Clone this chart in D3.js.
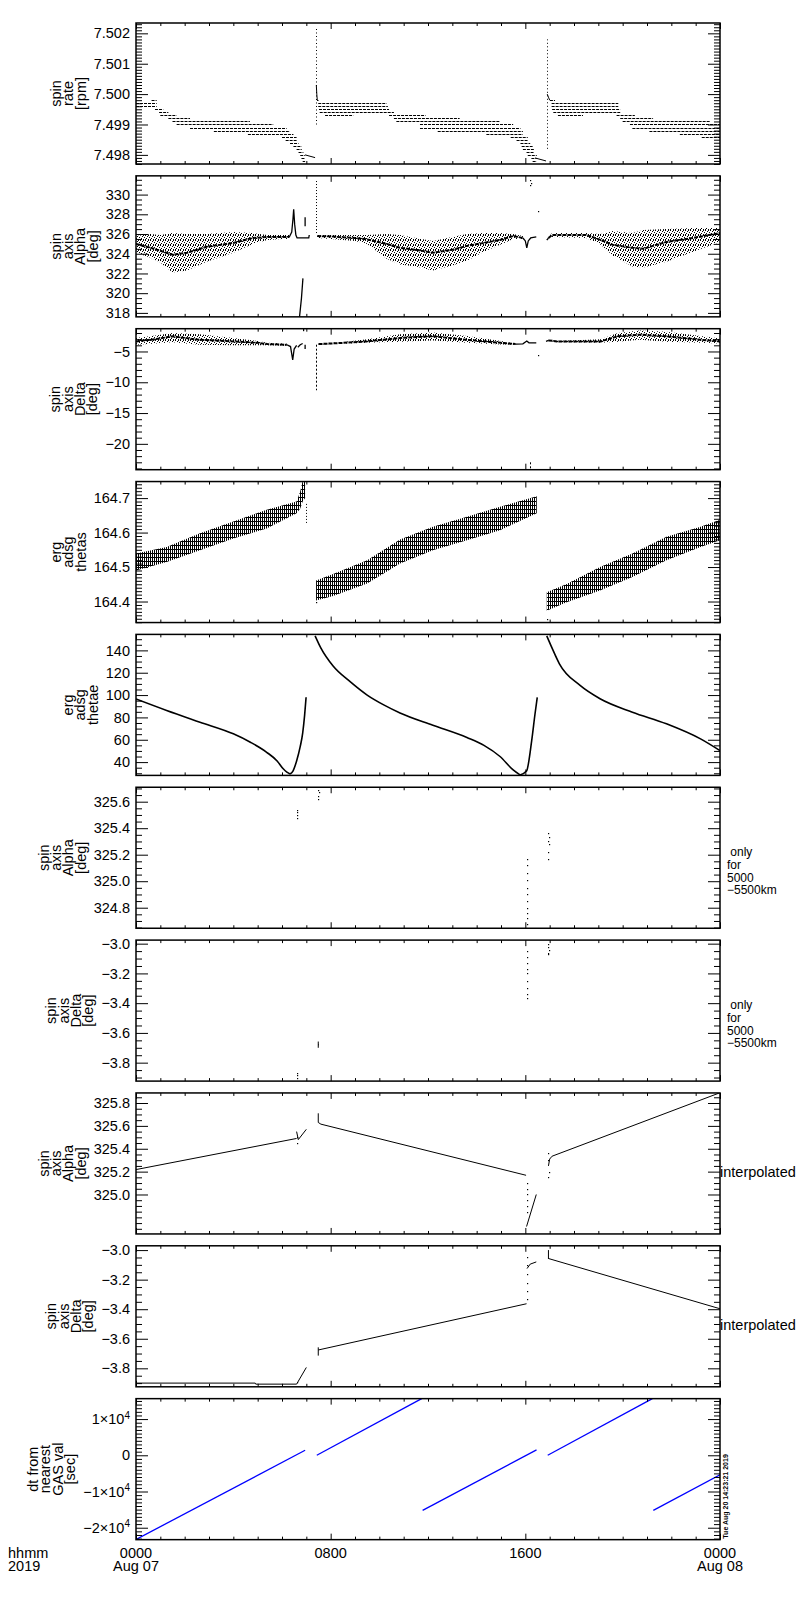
<!DOCTYPE html>
<html>
<head>
<meta charset="utf-8">
<script src="https://cdn.jsdelivr.net/npm/d3@7"></script>
<style>
  body { margin: 0; background: #fff; }
  text { font-family: "Liberation Sans", Arial, sans-serif; }
</style>
</head>
<body>
<svg id="chart"></svg>
<script>
// ---- data (time in hours from 0000 Aug 07) ----

// x axis
const xMajorHours = [0, 8, 16, 24];
const xMajorLabels = [["0000", "Aug 07"], ["0800", ""], ["1600", ""], ["0000", "Aug 08"]];

// panel 1: spin rate, quantised rows [level, t0, t1]
const p1Rows = [
  [7.4998, 0.64, 0.85], [7.4997, 0.00, 0.85], [7.4996, 0.00, 0.85], [7.4995, 0.78, 1.12],
  [7.4994, 0.95, 1.33], [7.4993, 1.00, 1.67], [7.4992, 1.33, 2.22], [7.4991, 1.50, 4.68],
  [7.4990, 1.67, 5.64], [7.4989, 2.22, 6.19], [7.4988, 3.20, 6.33], [7.4987, 4.60, 6.47],
  [7.4986, 6.00, 6.60], [7.4985, 6.15, 6.60], [7.4984, 6.33, 6.68], [7.4983, 6.47, 6.81],
  [7.4982, 6.60, 6.81], [7.4981, 6.68, 6.88], [7.4980, 6.75, 6.95], [7.4979, 6.80, 6.95],
  [7.4978, 6.85, 6.95],
  [7.4998, 7.44, 7.50], [7.4997, 7.49, 10.30], [7.4996, 7.49, 10.35], [7.4995, 7.52, 10.40],
  [7.4994, 7.55, 10.60], [7.4993, 7.77, 8.93], [7.4993, 10.40, 11.90], [7.4992, 10.60, 13.30],
  [7.4991, 10.70, 14.96], [7.4990, 11.67, 15.50], [7.4989, 11.67, 15.80], [7.4988, 12.40, 15.90],
  [7.4987, 14.40, 15.90], [7.4986, 15.40, 16.10], [7.4985, 15.64, 16.10], [7.4984, 15.80, 16.20],
  [7.4983, 15.85, 16.30], [7.4982, 15.90, 16.35], [7.4981, 16.05, 16.35], [7.4980, 16.10, 16.47],
  [7.4979, 16.25, 16.47], [7.4978, 16.30, 16.47],
  [7.4998, 17.01, 17.22], [7.4997, 17.08, 19.82], [7.4996, 17.08, 19.82], [7.4995, 17.10, 19.90],
  [7.4994, 17.15, 19.90], [7.4993, 17.34, 18.37], [7.4993, 19.75, 20.50], [7.4992, 19.90, 21.25],
  [7.4991, 20.00, 23.60], [7.4990, 20.30, 24.00], [7.4989, 20.40, 24.00], [7.4988, 21.10, 24.00],
  [7.4987, 22.35, 24.00], [7.4986, 23.25, 24.00]
];
const p1Lines = [
  [[6.95, 7.49800], [7.36, 7.49791]],
  [[16.40, 7.49790], [16.85, 7.49780]],
  [[7.41, 7.50030], [7.43, 7.50000], [7.45, 7.49980]],
  [[16.90, 7.50000], [16.95, 7.49990], [17.00, 7.49980]]
];
const p1Spikes = [[7.40, 7.4990, 7.5022], [16.88, 7.4982, 7.5018]];

// panel 2: spin axis alpha, scatter band [t, lo, core, hi]
const p2Band1 = [
  [0.0, 324.1, 325.0, 325.8], [0.6, 323.6, 324.6, 326.0], [1.0, 323.1, 324.3, 325.9],
  [1.5, 322.1, 323.9, 326.1], [2.1, 322.3, 324.1, 326.0], [2.9, 323.2, 324.7, 326.0],
  [4.0, 324.1, 325.1, 326.2], [4.8, 325.0, 325.6, 326.1], [5.4, 325.4, 325.7, 325.9],
  [6.0, 325.5, 325.7, 325.9], [6.3, 325.5, 325.7, 325.9]
];
const p2Band2 = [
  [7.45, 325.6, 325.8, 325.9], [8.0, 325.5, 325.75, 325.9], [9.0, 325.3, 325.6, 325.9],
  [9.5, 325.0, 325.45, 325.9], [10.3, 323.5, 325.0, 326.0], [10.85, 322.9, 324.6, 325.9],
  [11.5, 322.7, 324.4, 325.6], [12.2, 322.3, 324.1, 325.3], [13.0, 322.8, 324.4, 325.7],
  [13.6, 323.3, 324.8, 326.0], [14.3, 324.2, 325.1, 326.1], [14.96, 324.9, 325.4, 326.1],
  [15.5, 325.5, 325.8, 326.0], [15.9, 325.5, 325.6, 325.8]
];
const p2Band3 = [
  [16.95, 325.5, 325.6, 325.7], [17.1, 325.7, 325.9, 326.1], [18.5, 325.6, 325.9, 326.1],
  [19.1, 324.9, 325.4, 326.0], [19.6, 323.8, 324.9, 326.3], [20.4, 322.7, 324.6, 326.1],
  [20.85, 322.6, 324.5, 326.4], [21.8, 323.2, 325.2, 326.5], [22.9, 324.2, 325.6, 326.6],
  [24.0, 325.2, 326.1, 326.6]
];
const p2Lines = [
  [[6.3, 325.7], [6.4, 326.2], [6.45, 327.5], [6.48, 328.5], [6.52, 327.0], [6.57, 325.9], [6.62, 325.6], [7.1, 325.6], [7.12, 325.9]],
  [[6.72, 317.6], [6.8, 319.5], [6.86, 321.5]],
  [[6.95, 326.8], [6.95, 327.7]],
  [[15.9, 325.6], [16.0, 325.3], [16.06, 324.6], [16.12, 325.3], [16.22, 325.6], [16.45, 325.7]],
  [[16.88, 325.4], [16.92, 325.5], [16.95, 325.6]]
];
const p2Spikes = [[7.40, 326.1, 331.5]];
const p2Dots = [[16.2, 331.5], [16.21, 331.0], [16.22, 331.2], [16.5, 328.3]];

// panel 3: spin axis delta [t, lo, core, hi]
const p3Band1 = [
  [0.0, -3.9, -3.36, -2.8], [0.8, -3.7, -3.0, -2.4], [1.5, -3.5, -2.54, -2.0],
  [2.6, -3.9, -3.1, -2.2], [4.0, -4.0, -3.36, -2.8], [5.0, -4.0, -3.6, -3.3],
  [5.4, -4.0, -3.8, -3.6], [6.2, -4.05, -3.9, -3.75]
];
const p3Band2 = [
  [7.5, -3.85, -3.8, -3.75], [8.5, -3.75, -3.6, -3.45], [9.5, -3.6, -3.36, -3.0],
  [10.85, -3.4, -2.8, -2.2], [12.2, -3.2, -2.54, -1.9], [13.6, -3.6, -3.1, -2.5],
  [15.0, -3.85, -3.6, -3.3], [15.6, -3.9, -3.8, -3.7]
];
const p3Band3 = [
  [16.95, -3.3, -3.2, -3.1], [17.3, -3.45, -3.36, -3.3], [19.1, -3.6, -3.36, -3.0],
  [19.8, -3.4, -2.54, -2.0], [20.7, -3.1, -2.27, -1.6], [21.8, -3.4, -2.54, -1.8],
  [23.2, -3.6, -3.1, -2.5], [24.0, -3.7, -3.36, -2.9]
];
const p3Lines = [
  [[6.2, -3.9], [6.35, -4.2], [6.44, -6.36], [6.5, -4.6], [6.6, -4.0]],
  [[6.65, -4.3], [6.75, -3.9], [6.85, -3.7]],
  [[6.95, -3.9], [6.95, -4.6]],
  [[15.6, -3.8], [15.9, -3.75], [16.06, -3.3], [16.15, -3.6], [16.45, -3.6]],
  [[16.85, -3.35], [16.95, -3.2]]
];
const p3Spikes = [[7.40, -3.9, -11.3], [16.2, -23.0, -24.1]];
const p3Dots = [[6.85, -1.4], [6.86, -1.55], [16.5, -5.5]];

// panel 4: erg adsg thetas band [t, lo, hi]
const p4Band1 = [
  [0.0, 164.490, 164.539], [1.26, 164.515, 164.558], [2.63, 164.549, 164.598],
  [4.0, 164.583, 164.632], [5.37, 164.612, 164.666], [6.6, 164.656, 164.690],
  [6.75, 164.670, 164.720], [6.85, 164.690, 164.750], [6.95, 164.700, 164.750]
];
const p4Band2 = [
  [7.4, 164.403, 164.461], [8.1, 164.416, 164.480], [9.5, 164.452, 164.520],
  [10.85, 164.510, 164.580], [12.2, 164.549, 164.617], [13.6, 164.578, 164.646],
  [14.96, 164.607, 164.675], [16.47, 164.656, 164.705]
];
const p4Band3 = [
  [16.88, 164.373, 164.427], [17.7, 164.398, 164.451], [19.07, 164.432, 164.500],
  [20.4, 164.471, 164.539], [21.8, 164.520, 164.588], [23.2, 164.558, 164.617],
  [24.0, 164.578, 164.637]
];
const p4Spikes = [[6.97, 164.628, 164.686]];
const p4Dots = [[7.4, 164.398], [16.88, 164.350]];

// panel 5: erg adsg thetae
const p5Lines = [
  [[0, 96.5], [1.26, 86.2], [2.63, 75.7], [4.0, 65.3], [4.7, 57.8], [5.37, 48.8], [5.8, 41], [6.05, 34], [6.2, 31], [6.33, 29.4]],
  [[6.33, 29.4], [6.45, 32], [6.6, 41], [6.75, 54], [6.85, 66], [6.93, 82], [6.99, 98]],
  [[7.36, 153], [7.6, 142], [8.1, 126], [8.8, 112], [9.5, 100], [10.2, 91], [10.85, 84], [12.2, 73], [13.6, 62], [14.3, 55],
   [14.96, 45], [15.5, 33], [15.78, 28.5]],
  [[15.78, 28.5], [16.05, 32], [16.26, 59], [16.4, 83.5], [16.49, 98]],
  [[16.88, 153], [17.1, 142], [17.4, 128], [18.25, 108.6], [19.07, 96.7], [20.4, 84.7], [21.8, 74.3], [23.2, 60.8], [24, 50.3]]
];

// panel 6 / 7: only for 5000-5500 km
const p6Dots = [
  [6.60, 325.54], [6.60, 325.52], [6.61, 325.50], [6.60, 325.48],
  [7.49, 325.69], [7.50, 325.67], [7.49, 325.64], [7.49, 325.62],
  [16.05, 325.17], [16.05, 325.12], [16.06, 325.06], [16.05, 325.01], [16.06, 324.95], [16.05, 324.90],
  [16.06, 324.85], [16.05, 324.80], [16.06, 324.76], [16.05, 324.72], [16.06, 324.68],
  [16.95, 325.36], [16.96, 325.33], [16.95, 325.30], [16.97, 325.28], [16.95, 325.22], [16.95, 325.17]
];
const p7Dots = [
  [6.60, -3.870], [6.60, -3.885], [6.61, -3.905],
  [16.05, -3.05], [16.05, -3.09], [16.06, -3.13], [16.05, -3.17], [16.06, -3.20], [16.05, -3.25],
  [16.06, -3.30], [16.05, -3.34], [16.05, -3.365],
  [16.95, -3.005], [16.95, -3.02], [16.96, -3.04], [16.95, -3.06], [16.95, -3.07]
];
const p7Lines = [[[7.49, -3.658], [7.49, -3.70]], [[7.49, -3.68], [7.52, -3.68]]];

// panel 8 / 9: interpolated
const p8Lines = [
  [[0, 325.218], [6.6, 325.49]],
  [[6.6, 325.55], [6.67, 325.48], [7.0, 325.57]],
  [[7.49, 325.71], [7.49, 325.63], [7.6, 325.615], [16.03, 325.168]],
  [[16.05, 324.72], [16.45, 325.0]],
  [[16.95, 325.25], [17.0, 325.31], [17.1, 325.335], [24, 325.89]]
];
const p8Dots = [[6.6, 325.45], [6.6, 325.50], [16.05, 325.10], [16.05, 325.05], [16.06, 325.00], [16.05, 324.95],
  [16.05, 324.90], [16.06, 324.85], [16.95, 325.36], [16.95, 325.30], [16.96, 325.20], [16.95, 325.15]];
const p9Lines = [
  [[0, -3.9], [4.9, -3.9], [4.92, -3.907], [6.6, -3.907]],
  [[6.6, -3.907], [7.0, -3.794]],
  [[7.49, -3.658], [7.49, -3.714]],
  [[7.49, -3.676], [16.05, -3.363]],
  [[16.07, -3.125], [16.2, -3.095], [16.45, -3.08]],
  [[16.95, -3.0], [16.95, -3.06]],
  [[16.95, -3.057], [24, -3.397]]
];
const p9Dots = [[6.6, -3.89], [16.05, -3.05], [16.05, -3.10], [16.06, -3.16], [16.05, -3.22], [16.05, -3.28], [16.06, -3.33]];

// panel 10: dt from nearest GAS value [sec]
const p10Lines = [
  [[0, -23250], [6.95, 1400]],
  [[7.43, 0], [11.74, 15640]],
  [[11.78, -15200], [16.46, 1500]],
  [[16.92, 0], [21.22, 15640]],
  [[21.26, -15200], [24, -5400]]
];

// axes per panel
const yDomains = [
  [7.4977, 7.50234], [317.6, 331.9], [-24.2, -1.3], [164.339, 164.748], [28.1, 154.3],
  [324.645, 325.709], [-3.924, -2.976], [324.655, 325.888], [-3.925, -2.971], [-23290, 15640]
];
const yMajors = [
  [7.498, 7.499, 7.500, 7.501, 7.502], [318, 320, 322, 324, 326, 328, 330], [-20, -15, -10, -5],
  [164.4, 164.5, 164.6, 164.7], [40, 60, 80, 100, 120, 140], [324.8, 325.0, 325.2, 325.4, 325.6],
  [-3.8, -3.6, -3.4, -3.2, -3.0], [325.0, 325.2, 325.4, 325.6, 325.8], [-3.8, -3.6, -3.4, -3.2, -3.0],
  [-20000, -10000, 0, 10000]
];
const yMinorSteps = [0.0001, 0.5, 1, 0.01, 5, 0.05, 0.05, 0.05, 0.05, 1000];
const yFormats = [".3f", "d", "d", ".1f", "d", ".1f", ".1f", ".1f", ".1f", "exp"];
const yTitles = [
  ["spin", "rate", "[rpm]"], ["spin", "axis", "Alpha", "[deg]"], ["spin", "axis", "Delta", "[deg]"],
  ["erg", "adsg", "thetas"], ["erg", "adsg", "thetae"], ["spin", "axis", "Alpha", "[deg]"],
  ["spin", "axis", "Delta", "[deg]"], ["spin", "axis", "Alpha", "[deg]"], ["spin", "axis", "Delta", "[deg]"],
  ["dt from", "nearest", "GAS val", "[sec]"]
];
const rightNotes = [null, null, null, null, null,
  [" only", "for", "5000", "\u22125500km"], [" only", "for", "5000", "\u22125500km"],
  ["interpolated"], ["interpolated"], null];
const stampText = "Tue Aug 20 14:23:21 2019";

// ---- layout ----
const X0 = 136, X1 = 720, TOP0 = 23, STEP = 152.85, H = 141;
const FONT = "Liberation Sans, Arial, sans-serif";

const svg = d3.select("#chart").attr("width", 800).attr("height", 1600);
svg.append("rect").attr("width", 800).attr("height", 1600).attr("fill", "#fff");

const defs = svg.append("defs");
const stip = defs.append("pattern").attr("id", "stip")
  .attr("patternUnits", "userSpaceOnUse").attr("width", 5).attr("height", 5);
[[0, 0], [3, 0], [2, 1], [4, 2], [1, 3], [3, 4], [0, 4]].forEach(function (p) {
  stip.append("rect").attr("x", p[0]).attr("y", p[1]).attr("width", 1).attr("height", 1).attr("fill", "#000");
});
const hatch = defs.append("pattern").attr("id", "hatch")
  .attr("patternUnits", "userSpaceOnUse").attr("width", 2).attr("height", 4);
hatch.append("rect").attr("x", 0).attr("y", 0).attr("width", 1).attr("height", 4).attr("fill", "#000");
hatch.append("rect").attr("x", 1).attr("y", 1).attr("width", 1).attr("height", 1).attr("fill", "#000");

const x = d3.scaleLinear().domain([0, 24]).range([X0, X1]);

function minorTicks(dom, step, majors) {
  const out = [];
  const k0 = Math.ceil(dom[0] / step - 1e-6), k1 = Math.floor(dom[1] / step + 1e-6);
  for (let k = k0; k <= k1; k++) {
    const v = k * step;
    if (!majors.some(function (m) { return Math.abs(m - v) < step / 10; })) out.push(v);
  }
  return out;
}

const panels = yDomains.map(function (dom, i) {
  const top = TOP0 + i * STEP, bot = top + H;
  const y = d3.scaleLinear().domain(dom).range([bot, top]);
  const g = svg.append("g");
  defs.append("clipPath").attr("id", "clip" + i)
    .append("rect").attr("x", X0).attr("y", top).attr("width", X1 - X0).attr("height", H);
  const plot = g.append("g").attr("clip-path", "url(#clip" + i + ")");
  return { i: i, top: top, bot: bot, y: y, g: g, plot: plot };
});

// ---- data drawing helpers ----
function drawLines(p, lines, color, width, curve) {
  const line = d3.line().curve(curve || d3.curveLinear)
    .x(function (d) { return x(d[0]); }).y(function (d) { return p.y(d[1]); });
  p.plot.selectAll(null).data(lines).join("path")
    .attr("d", line).attr("fill", "none")
    .attr("stroke", color || "#000").attr("stroke-width", width || 1);
}

function drawBand(p, band, fill, withCore) {
  const area = d3.area()
    .x(function (d) { return x(d[0]); })
    .y0(function (d) { return p.y(d[1]); })
    .y1(function (d) { return p.y(d[d.length - 1]); });
  p.plot.append("path").datum(band).attr("d", area).attr("fill", fill);
  if (withCore) {
    const core = d3.line().x(function (d) { return x(d[0]); }).y(function (d) { return p.y(d[2]); });
    p.plot.append("path").datum(band).attr("d", core)
      .attr("fill", "none").attr("stroke", "#000").attr("stroke-width", 2)
      .attr("stroke-dasharray", "4 1");
  }
}

function drawSpikes(p, spikes, dash) {
  p.plot.selectAll(null).data(spikes).join("line")
    .attr("x1", function (d) { return Math.round(x(d[0])) + 0.5; })
    .attr("x2", function (d) { return Math.round(x(d[0])) + 0.5; })
    .attr("y1", function (d) { return p.y(d[1]); })
    .attr("y2", function (d) { return p.y(d[2]); })
    .attr("stroke", "#000").attr("stroke-width", 1).attr("stroke-dasharray", dash || "1 2");
}

function drawDots(p, dots) {
  p.plot.selectAll(null).data(dots).join("rect")
    .attr("x", function (d) { return Math.round(x(d[0])); })
    .attr("y", function (d) { return Math.round(p.y(d[1])); })
    .attr("width", 1.2).attr("height", 1.2).attr("fill", "#000");
}

// panel 1 rows
panels[0].plot.selectAll(null).data(p1Rows).join("line")
  .attr("x1", function (d) { return x(d[1]); })
  .attr("x2", function (d) { return x(d[2]); })
  .attr("y1", function (d) { return Math.round(panels[0].y(d[0])) + 0.5; })
  .attr("y2", function (d) { return Math.round(panels[0].y(d[0])) + 0.5; })
  .attr("stroke", "#000").attr("stroke-width", 1).attr("stroke-dasharray", "3 1");
drawLines(panels[0], p1Lines);
drawSpikes(panels[0], p1Spikes, "1 2.5");

// panel 2
[p2Band1, p2Band2, p2Band3].forEach(function (b) { drawBand(panels[1], b, "url(#stip)", true); });
drawLines(panels[1], p2Lines, "#000", 1.3);
drawSpikes(panels[1], p2Spikes, "1 2");
drawDots(panels[1], p2Dots);

// panel 3
[p3Band1, p3Band2, p3Band3].forEach(function (b) { drawBand(panels[2], b, "url(#stip)", true); });
drawLines(panels[2], p3Lines, "#000", 1.3);
drawSpikes(panels[2], p3Spikes, "2 2");
drawDots(panels[2], p3Dots);

// panel 4
[p4Band1, p4Band2, p4Band3].forEach(function (b) { drawBand(panels[3], b, "url(#hatch)", false); });
drawSpikes(panels[3], p4Spikes, "1 2");
drawDots(panels[3], p4Dots);

// panel 5
drawLines(panels[4], p5Lines, "#000", 1.6, d3.curveMonotoneX);

// panels 6 - 9
drawDots(panels[5], p6Dots);
drawDots(panels[6], p7Dots);
drawLines(panels[6], p7Lines);
drawLines(panels[7], p8Lines);
drawDots(panels[7], p8Dots);
drawLines(panels[8], p9Lines);
drawDots(panels[8], p9Dots);

// panel 10
drawLines(panels[9], p10Lines, "#0000ff", 1.3);

// ---- axes, frames, titles ----
function expLabel(sel) {
  sel.each(function (d) {
    if (d === 0) return;
    const t = d3.select(this).text(null);
    t.append("tspan").text(d3.format("d")(d / 1e4) + "\u00d710");
    t.append("tspan").attr("dy", "-0.55em").attr("font-size", "10px").text("4");
  });
}

const hourMinors = d3.range(1, 24).filter(function (h) { return h % 8 !== 0; });

panels.forEach(function (p, i) {
  const y = p.y, g = p.g;
  const majors = yMajors[i];
  const minors = minorTicks(yDomains[i], yMinorSteps[i], majors);
  const fmt = yFormats[i] === "exp" ? d3.format("d") : d3.format(yFormats[i]);

  const left = g.append("g").attr("transform", "translate(" + X0 + ",0)")
    .call(d3.axisLeft(y).tickValues(majors).tickSize(-12).tickPadding(6).tickFormat(fmt));
  g.append("g").attr("transform", "translate(" + X0 + ",0)")
    .call(d3.axisLeft(y).tickValues(minors).tickSize(-6).tickFormat(""));
  g.append("g").attr("transform", "translate(" + X1 + ",0)")
    .call(d3.axisRight(y).tickValues(majors).tickSize(-12).tickFormat(""));
  g.append("g").attr("transform", "translate(" + X1 + ",0)")
    .call(d3.axisRight(y).tickValues(minors).tickSize(-6).tickFormat(""));

  g.append("g").attr("transform", "translate(0," + p.bot + ")")
    .call(d3.axisBottom(x).tickValues(xMajorHours).tickSize(-6).tickFormat(""));
  g.append("g").attr("transform", "translate(0," + p.bot + ")")
    .call(d3.axisBottom(x).tickValues(hourMinors).tickSize(-3).tickFormat(""));
  g.append("g").attr("transform", "translate(0," + p.top + ")")
    .call(d3.axisTop(x).tickValues(xMajorHours).tickSize(-6).tickFormat(""));
  g.append("g").attr("transform", "translate(0," + p.top + ")")
    .call(d3.axisTop(x).tickValues(hourMinors).tickSize(-3).tickFormat(""));

  g.selectAll(".domain").remove();
  g.selectAll(".tick line").attr("stroke", "#000").attr("stroke-width", 1);
  left.attr("font-size", 14.5).attr("font-family", FONT);
  left.selectAll(".tick text").attr("fill", "#000");
  if (yFormats[i] === "exp") left.selectAll(".tick text").call(expLabel);

  g.append("rect").attr("x", X0).attr("y", p.top).attr("width", X1 - X0).attr("height", H)
    .attr("fill", "none").attr("stroke", "#000").attr("stroke-width", 1.5);

  // y title, rotated, placed left of the widest tick label
  let maxW = 0;
  left.selectAll(".tick text").each(function () { maxW = Math.max(maxW, this.getBBox().width); });
  const lines = yTitles[i];
  const lastX = X0 - 6 - maxW - 13;
  const lh = 12.4;
  const title = g.append("text")
    .attr("transform", "translate(" + (lastX - (lines.length - 1) * lh) + "," + (p.top + H / 2) + ") rotate(-90)")
    .attr("text-anchor", "middle").attr("font-size", 14.5).attr("fill", "#000");
  lines.forEach(function (s, k) {
    title.append("tspan").attr("x", 0).attr("dy", k === 0 ? "0.35em" : lh).text(s);
  });

  // right-hand notes
  const note = rightNotes[i];
  if (note) {
    const single = note.length === 1;
    const t = g.append("text").attr("font-size", single ? 14.5 : 12).attr("fill", "#000").style("white-space", "pre");
    note.forEach(function (s, k) {
      t.append("tspan").attr("x", single ? X1 : X1 + 7)
        .attr("y", p.top + (single ? 79 : 65 + k * 12.6)).attr("dy", "0.35em").text(s);
    });
  }
});

// ---- bottom x labels ----
const last = panels[panels.length - 1];
const xl = svg.append("g").attr("font-size", 14.5).attr("fill", "#000");
xMajorHours.forEach(function (h, k) {
  xl.append("text").attr("x", x(h)).attr("y", last.bot + 18.5).attr("text-anchor", "middle").text(xMajorLabels[k][0]);
  if (xMajorLabels[k][1]) {
    xl.append("text").attr("x", x(h)).attr("y", last.bot + 31.5).attr("text-anchor", "middle").text(xMajorLabels[k][1]);
  }
});
xl.append("text").attr("x", 8).attr("y", last.bot + 18.5).text("hhmm");
xl.append("text").attr("x", 8).attr("y", last.bot + 31.5).text("2019");

// time stamp
svg.append("text")
  .attr("transform", "translate(" + (X1 + 7.5) + "," + (last.bot - 1) + ") rotate(-90)")
  .attr("font-size", 7).attr("font-weight", "bold").attr("fill", "#000")
  .text(stampText);
</script>
</body>
</html>
